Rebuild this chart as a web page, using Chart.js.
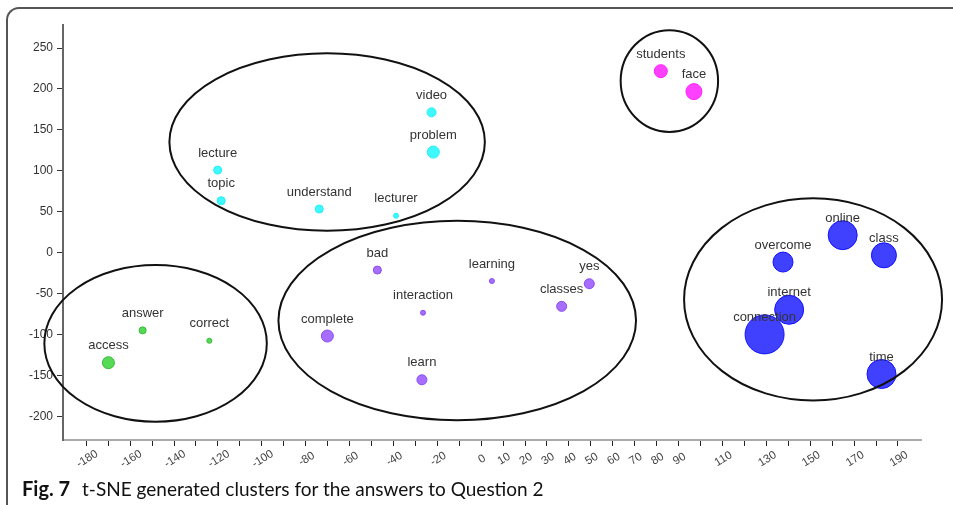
<!DOCTYPE html>
<html>
<head>
<meta charset="utf-8">
<script src="https://cdn.jsdelivr.net/npm/chart.js@4.4.1/dist/chart.umd.min.js"></script>
<style>
  html, body { margin: 0; padding: 0; background: #fff; }
  #wrap { position: relative; width: 953px; height: 505px; overflow: hidden; }
  #frame {
    position: absolute; left: 6px; top: 7px; width: 1000px; height: 520px;
    border-left: 2px solid #555; border-top: 2px solid #555;
    border-top-left-radius: 13px; box-sizing: border-box;
  }
  #chart { position: absolute; left: 0; top: 0; }
  #caption {
    position: absolute; left: 22px; top: 476px; font-family: Lato, "Open Sans", sans-serif;
    font-size: 19px; line-height: 24px; color: #111; white-space: nowrap;
  }
  #caption b { font-weight: 700; font-size: 20px; margin-right: 7px; }
</style>
</head>
<body>
<div id="wrap">
  <div id="frame"></div>
  <canvas id="chart" width="953" height="505"></canvas>
  <div id="caption"><b>Fig. 7</b> t-SNE generated clusters for the answers to Question 2</div>
</div>
<script>
// words and their t-SNE coordinates
const words = ['video', 'problem', 'lecture', 'topic', 'understand', 'lecturer',
               'bad', 'learning', 'yes', 'classes', 'interaction', 'complete', 'learn',
               'answer', 'correct', 'access',
               'students', 'face',
               'online', 'class', 'overcome', 'internet', 'connection', 'time'];
const xVals = [-22.6, -21.8, -120.1, -118.5, -73.8, -38.8,
               -47.3, 4.9, 49.3, 36.7, -26.5, -70.1, -27.0,
               -154.3, -123.9, -169.9,
               81.9, 97.0,
               164.8, 183.6, 137.6, 140.4, 129.2, 182.5];
const yVals = [171.5, 123.0, 101.0, 63.6, 53.5, 45.3,
               -21.0, -34.4, -37.7, -65.3, -73.1, -101.5, -154.9,
               -94.6, -107.3, -134.1,
               221.8, 196.8,
               21.6, -3.0, -11.2, -69.5, -99.5, -147.9];
const sizes = [4.5, 6, 4, 4, 4, 2.5,
               4, 2.5, 5, 5, 2.5, 6, 5,
               3.5, 2.5, 6,
               6.5, 8,
               14.5, 12.5, 10, 14.5, 19.5, 14.5];
const cluster = [0, 0, 0, 0, 0, 0,
                 1, 1, 1, 1, 1, 1, 1,
                 2, 2, 2,
                 3, 3,
                 4, 4, 4, 4, 4, 4];
const clusterNames = ['lectures', 'learning', 'answers', 'people', 'connection'];
const clusterFill = ['rgba(0,245,255,0.75)', 'rgba(136,60,255,0.75)', 'rgba(30,205,30,0.75)',
                     'rgba(255,0,255,0.75)', 'rgba(0,0,255,0.75)'];
const clusterLine = ['#22eef5', '#8a4cf0', '#33bb33', '#ff22ff', '#1010ff'];

// cluster outlines (centre and radii in data units)
const ellCx = [-70.2, -10.9, -148.4, 85.8, 151.3];
const ellCy = [135.2, -82.6, -110.5, 209.7, -56.8];
const ellRx = [71.9, 81.5, 50.7, 22.2, 58.8];
const ellRy = [108.3, 121.7, 95.6, 62.1, 123.4];

// axis ticks
const xTickLabels = [-180, -160, -140, -120, -100, -80, -60, -40, -20,
                     0, 10, 20, 30, 40, 50, 60, 70, 80, 90,
                     110, 130, 150, 170, 190];
const yTicks = [-200, -150, -100, -50, 0, 50, 100, 150, 200, 250];
const xTickMarks = [];
for (let v = -180; v <= 190; v += 10) xTickMarks.push(v);

const datasets = clusterNames.map((name, c) => ({
    label: name,
    data: words.map((w, i) => ({ x: xVals[i], y: yVals[i], r: sizes[i], w: w, c: cluster[i] }))
               .filter(p => p.c === c),
    backgroundColor: clusterFill[c],
    borderColor: clusterLine[c],
    borderWidth: 1
}));

const ellipsePlugin = {
    id: 'ellipses',
    afterDatasetsDraw(chart) {
        const { ctx, scales: { x, y } } = chart;
        ctx.save();
        ctx.strokeStyle = '#111';
        ctx.lineWidth = 2;
        ellCx.forEach((cx, i) => {
            const px = x.getPixelForValue(cx);
            const py = y.getPixelForValue(ellCy[i]);
            const rx = Math.abs(x.getPixelForValue(cx + ellRx[i]) - px);
            const ry = Math.abs(y.getPixelForValue(ellCy[i] + ellRy[i]) - py);
            ctx.beginPath();
            ctx.ellipse(px, py, rx, ry, 0, 0, Math.PI * 2);
            ctx.stroke();
        });
        ctx.restore();
    }
};

const wordLabelPlugin = {
    id: 'wordLabels',
    afterDraw(chart) {
        const ctx = chart.ctx;
        ctx.save();
        ctx.font = '13px "Liberation Sans", Arial, sans-serif';
        ctx.fillStyle = '#333';
        ctx.textAlign = 'center';
        ctx.textBaseline = 'middle';
        chart.data.datasets.forEach((ds, di) => {
            chart.getDatasetMeta(di).data.forEach((el, i) => {
                ctx.fillText(ds.data[i].w, el.x, el.y - 17);
            });
        });
        ctx.restore();
    }
};

// rotated x labels centred under their tick (d3 style)
const xLabelPlugin = {
    id: 'xLabels',
    afterDraw(chart) {
        const { ctx, scales: { x } } = chart;
        ctx.save();
        ctx.font = '11.5px "Liberation Sans", Arial, sans-serif';
        ctx.fillStyle = '#444';
        ctx.textAlign = 'center';
        ctx.textBaseline = 'middle';
        xTickLabels.forEach(v => {
            ctx.save();
            ctx.translate(x.getPixelForValue(v) + 1, x.top + 19);
            ctx.rotate(-32 * Math.PI / 180);
            ctx.fillText(String(v), 0, 0);
            ctx.restore();
        });
        ctx.restore();
    }
};

new Chart(document.getElementById('chart'), {
    type: 'bubble',
    data: { datasets: datasets },
    options: {
        responsive: false,
        animation: false,
        events: [],
        layout: { padding: { left: 0, top: 25, right: 32, bottom: 25 } },
        plugins: { legend: { display: false }, tooltip: { enabled: false } },
        scales: {
            x: {
                type: 'linear', min: -190.6, max: 200.5,
                afterBuildTicks: s => { s.ticks = xTickMarks.map(v => ({ value: v })); },
                afterFit: s => { s.height = 40; },
                ticks: { display: false },
                grid: { drawOnChartArea: false, tickLength: 6, tickColor: '#222', tickWidth: 1 },
                border: { color: '#aaa', width: 2 }
            },
            y: {
                type: 'linear', min: -228.4, max: 278.1,
                afterBuildTicks: s => { s.ticks = yTicks.map(v => ({ value: v })); },
                afterFit: s => { s.width = 63; },
                ticks: {
                    padding: 4, color: '#333',
                    font: { family: '"Liberation Sans", Arial, sans-serif', size: 12 }
                },
                grid: { drawOnChartArea: false, tickLength: 6, tickColor: '#333', tickWidth: 1 },
                border: { color: '#666', width: 2 }
            }
        }
    },
    plugins: [ellipsePlugin, wordLabelPlugin, xLabelPlugin]
});
</script>
</body>
</html>
